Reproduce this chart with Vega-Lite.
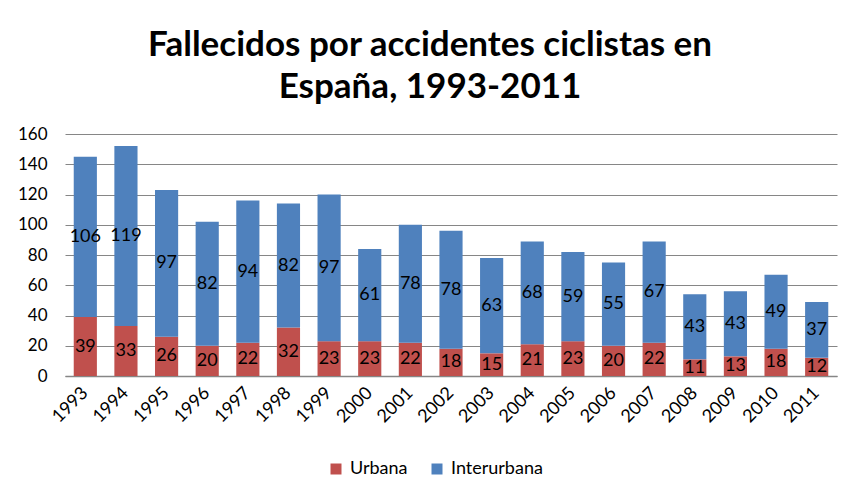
{
  "$schema": "https://vega.github.io/schema/vega-lite/v6.json",
  "width": 772,
  "height": 242,
  "autosize": {"type": "none"},
  "padding": {"left": 65, "top": 134, "right": 24, "bottom": 126},
  "background": "white",
  "title": {
    "text": ["Fallecidos por accidentes ciclistas en", "España, 1993-2011"],
    "font": "Lato",
    "fontSize": 35,
    "fontWeight": "bold",
    "color": "black",
    "lineHeight": 42,
    "anchor": "middle",
    "dx": -21,
    "offset": 20
  },
  "config": {
    "view": {"stroke": null},
    "font": "Lato",
    "axisY": {
      "values": [0, 20, 40, 60, 80, 100, 120, 140, 160],
      "labelOverlap": false,
      "labelFont": "Lato",
      "labelFontSize": 17,
      "labelColor": "black",
      "labelPadding": 18,
      "ticks": false,
      "domain": false,
      "gridColor": "#868686",
      "gridWidth": 1
    }
  },
  "data": {
    "values": [
      {"anio": "1993", "tipo": "Urbana", "valor": 39}, {"anio": "1993", "tipo": "Interurbana", "valor": 106},
      {"anio": "1994", "tipo": "Urbana", "valor": 33}, {"anio": "1994", "tipo": "Interurbana", "valor": 119},
      {"anio": "1995", "tipo": "Urbana", "valor": 26}, {"anio": "1995", "tipo": "Interurbana", "valor": 97},
      {"anio": "1996", "tipo": "Urbana", "valor": 20}, {"anio": "1996", "tipo": "Interurbana", "valor": 82},
      {"anio": "1997", "tipo": "Urbana", "valor": 22}, {"anio": "1997", "tipo": "Interurbana", "valor": 94},
      {"anio": "1998", "tipo": "Urbana", "valor": 32}, {"anio": "1998", "tipo": "Interurbana", "valor": 82},
      {"anio": "1999", "tipo": "Urbana", "valor": 23}, {"anio": "1999", "tipo": "Interurbana", "valor": 97},
      {"anio": "2000", "tipo": "Urbana", "valor": 23}, {"anio": "2000", "tipo": "Interurbana", "valor": 61},
      {"anio": "2001", "tipo": "Urbana", "valor": 22}, {"anio": "2001", "tipo": "Interurbana", "valor": 78},
      {"anio": "2002", "tipo": "Urbana", "valor": 18}, {"anio": "2002", "tipo": "Interurbana", "valor": 78},
      {"anio": "2003", "tipo": "Urbana", "valor": 15}, {"anio": "2003", "tipo": "Interurbana", "valor": 63},
      {"anio": "2004", "tipo": "Urbana", "valor": 21}, {"anio": "2004", "tipo": "Interurbana", "valor": 68},
      {"anio": "2005", "tipo": "Urbana", "valor": 23}, {"anio": "2005", "tipo": "Interurbana", "valor": 59},
      {"anio": "2006", "tipo": "Urbana", "valor": 20}, {"anio": "2006", "tipo": "Interurbana", "valor": 55},
      {"anio": "2007", "tipo": "Urbana", "valor": 22}, {"anio": "2007", "tipo": "Interurbana", "valor": 67},
      {"anio": "2008", "tipo": "Urbana", "valor": 11}, {"anio": "2008", "tipo": "Interurbana", "valor": 43},
      {"anio": "2009", "tipo": "Urbana", "valor": 13}, {"anio": "2009", "tipo": "Interurbana", "valor": 43},
      {"anio": "2010", "tipo": "Urbana", "valor": 18}, {"anio": "2010", "tipo": "Interurbana", "valor": 49},
      {"anio": "2011", "tipo": "Urbana", "valor": 12}, {"anio": "2011", "tipo": "Interurbana", "valor": 37}
    ]
  },
  "transform": [
    {"stack": "valor", "groupby": ["anio"], "sort": [{"field": "tipo", "order": "descending"}], "as": ["v0", "v1"]},
    {"calculate": "(datum.v0 + datum.v1) / 2", "as": "vmid"}
  ],
  "encoding": {
    "x": {
      "field": "anio",
      "type": "ordinal",
      "title": null,
      "scale": {"paddingInner": 0.43, "paddingOuter": 0.215},
      "axis": {
        "labelAngle": -45,
        "labelAlign": "right",
        "labelBaseline": "middle",
        "labelFont": "Lato",
        "labelFontSize": 18,
        "labelColor": "black",
        "labelPadding": 14,
        "labelOverlap": false,
        "ticks": false,
        "domainColor": "#868686",
        "domainWidth": 1.5,
        "grid": false
      }
    }
  },
  "layer": [
    {
      "mark": {"type": "bar"},
      "encoding": {
        "y": {
          "field": "v0",
          "type": "quantitative",
          "title": null,
          "scale": {"domain": [0, 160]},
          "axis": {"values": [0, 20, 40, 60, 80, 100, 120, 140, 160], "labelOverlap": false}
        },
        "y2": {"field": "v1"},
        "color": {
          "field": "tipo",
          "type": "nominal",
          "scale": {"domain": ["Urbana", "Interurbana"], "range": ["#C0504D", "#4F81BD"]},
          "legend": {
            "title": null,
            "orient": "none",
            "direction": "horizontal",
            "legendX": 262,
            "legendY": 326,
            "symbolType": "square",
            "symbolSize": 121,
            "symbolStrokeWidth": 0,
            "symbolOpacity": 1,
            "labelFont": "Lato",
            "labelFontSize": 18,
            "labelColor": "black",
            "labelOffset": 5,
            "columnPadding": 20,
            "padding": 0
          }
        }
      }
    },
    {
      "mark": {"type": "text", "font": "Lato", "fontSize": 18, "color": "black", "baseline": "middle"},
      "encoding": {
        "y": {
          "field": "vmid",
          "type": "quantitative",
          "title": null,
          "axis": {"values": [0, 20, 40, 60, 80, 100, 120, 140, 160], "labelOverlap": false}
        },
        "text": {"field": "valor", "type": "quantitative"}
      }
    }
  ]
}
